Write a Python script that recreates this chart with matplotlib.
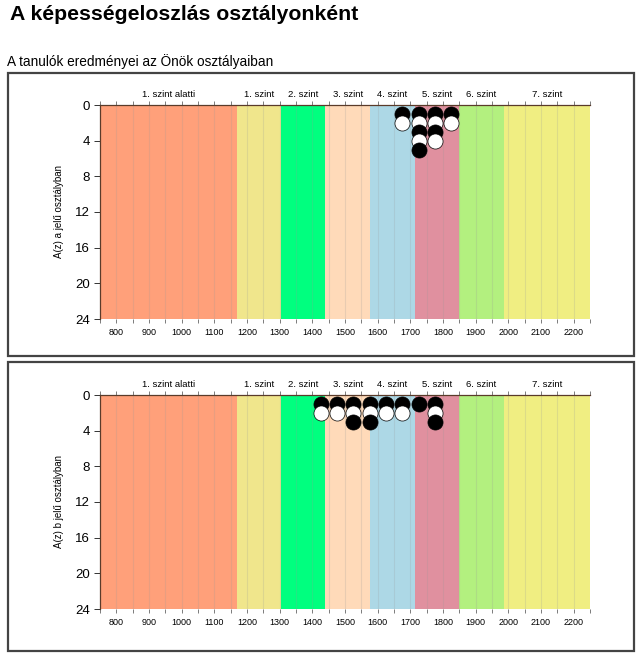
import matplotlib
matplotlib.use('Agg')
import matplotlib.pyplot as plt
from matplotlib.patches import Rectangle

plt.rcParams['font.family'] = ['Liberation Sans', 'DejaVu Sans']

# level bands (score limits), names and colours
level_names = ['1. szint alatti', '1. szint', '2. szint', '3. szint',
               '4. szint', '5. szint', '6. szint', '7. szint']
level_edges = [750, 1168, 1304, 1440, 1577, 1713, 1849, 1986, 2250]
level_colors = ['#FFA07A', '#F0E68C', '#00FF7F', '#FFDAB9',
                '#ADD8E6', '#E0909F', '#B3F07F', '#F0EE82']

# students per 50-point bin (bin centre), for each class
a_bins = [1675, 1725, 1775, 1825]
a_counts = [2, 5, 4, 2]
b_bins = [1425, 1475, 1525, 1575, 1625, 1675, 1725, 1775]
b_counts = [2, 2, 3, 3, 2, 2, 1, 3]

y_ticks = [0, 4, 8, 12, 16, 20, 24]
x_ticks = list(range(800, 2201, 100))

W, H = 637, 664
fig = plt.figure(figsize=(W / 100, H / 100), dpi=100)

fig.text(10 / W, 1 - 15 / H, 'A képességeloszlás osztályonként',
         fontsize=15.3, fontweight='bold', va='center', ha='left')
fig.text(7 / W, 1 - 62 / H, 'A tanulók eredményei az Önök osztályaiban',
         fontsize=9.8, va='center', ha='left')

# frames round the two panels
for top, bottom in [(73, 356), (362, 651)]:
    fig.patches.append(Rectangle((8 / W, 1 - bottom / H), (634 - 8) / W,
                                 (bottom - top) / H, transform=fig.transFigure,
                                 fill=False, edgecolor='#444444', linewidth=1.6))


def draw_panel(ax_top, bins, counts, ylabel):
    ax = fig.add_axes([100 / W, 1 - (ax_top + 214) / H, 490 / W, 214 / H])
    for i in range(len(level_names)):
        ax.axvspan(level_edges[i], level_edges[i + 1], color=level_colors[i],
                   linewidth=0, zorder=0)
        mid = (level_edges[i] + level_edges[i + 1]) / 2
        ax.text(mid, -0.7, level_names[i], fontsize=6.8, ha='center', va='bottom')
    for x in range(800, 2250, 50):
        ax.axvline(x, color='#999999', alpha=0.22, linewidth=0.8, zorder=1)

    for b, c in zip(bins, counts):
        for k in range(1, c + 1):
            col = 'black' if k % 2 == 1 else 'white'
            ax.scatter([b], [k], s=118, color=col, edgecolor='black',
                       linewidth=0.5, zorder=2 + k, clip_on=False)

    ax.set_xlim(750, 2250)
    ax.set_ylim(24, 0)
    ax.set_yticks(y_ticks)
    ax.set_xticks(x_ticks)
    ax.set_xticks(list(range(750, 2251, 50)), minor=True)
    ax.tick_params(axis='y', labelsize=9.5, length=4, width=0.7, color='#333333')
    ax.tick_params(axis='x', which='both', labelsize=6.5, length=3, width=0.6,
                   color='#666666', top=True, bottom=True, labeltop=False)
    ax.spines['right'].set_visible(False)
    ax.spines['bottom'].set_visible(False)
    ax.spines['top'].set_color('#5a3b2a')
    ax.spines['left'].set_color('#5a3b2a')
    ax.spines['top'].set_linewidth(0.9)
    ax.spines['left'].set_linewidth(0.9)
    ax.set_ylabel(ylabel, fontsize=7, labelpad=8)
    return ax


draw_panel(105, a_bins, a_counts, 'A(z) a jelű osztályban')
draw_panel(395, b_bins, b_counts, 'A(z) b jelű osztályban')

fig.savefig('out.png', dpi=100)
